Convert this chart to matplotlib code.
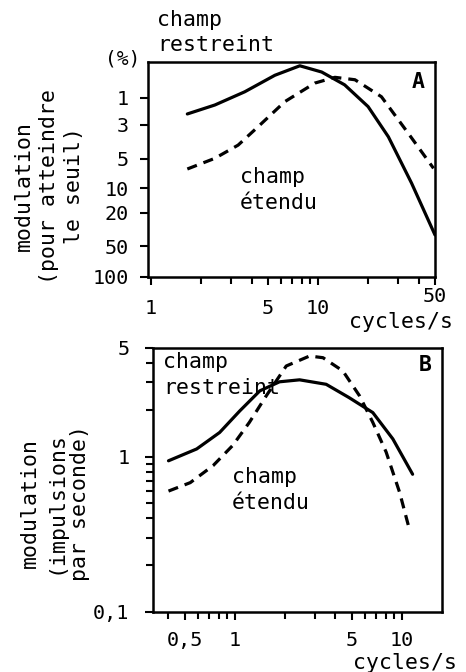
import matplotlib
matplotlib.use('Agg')
import matplotlib.pyplot as plt
from matplotlib.ticker import FixedLocator, NullLocator, LogLocator, NullFormatter
import numpy as np

plt.rcParams['font.family'] = ['DejaVu Sans Mono']

# panel A: seuil de modulation (%) vs frequence temporelle
a_freq_restreint = [1.65, 2.41, 3.64, 5.51, 7.77, 10.5, 14.4, 19.9, 26.3, 36.2, 50.0]
a_mod_restreint = [1.93, 1.35, 0.80, 0.42, 0.29, 0.37, 0.61, 1.44, 3.58, 8.9, 36.8]
a_freq_etendu = [1.65, 2.41, 3.32, 4.37, 6.32, 9.55, 12.6, 16.6, 23.9, 34.6, 49.0]
a_mod_etendu = [6.35, 4.95, 4.06, 3.08, 1.18, 0.57, 0.455, 0.50, 0.97, 3.40, 6.25]
a_yticks = [1, 3, 5, 10, 20, 50, 100]
a_xticks = [1, 5, 10, 50]

# panel B: modulation de la reponse (impulsions par seconde)
b_freq_restreint = [0.40, 0.59, 0.81, 1.07, 1.41, 1.85, 2.44, 3.52, 4.82, 6.70, 8.83, 11.6]
b_mod_restreint = [0.94, 1.12, 1.43, 1.97, 2.65, 3.03, 3.12, 2.92, 2.40, 1.92, 1.30, 0.77]
b_freq_etendu = [0.40, 0.54, 0.74, 0.97, 1.22, 1.54, 2.03, 2.80, 3.37, 4.43, 5.58, 6.70, 8.05, 9.69, 11.1]
b_mod_etendu = [0.60, 0.68, 0.875, 1.18, 1.66, 2.46, 3.83, 4.44, 4.33, 3.56, 2.46, 1.66, 1.07, 0.59, 0.34]
b_xticks = [0.5, 1, 5, 10]
b_xticklabels = ['0,5', '1', '5', '10']
b_yticks = [0.1, 1, 5]
b_yticklabels = ['0,1', '1', '5']

W, H = 466, 672
fig = plt.figure(figsize=(W / 100, H / 100), dpi=100)

FS = 15.5
TFS = 14.5


def px_axes(x0, y0, x1, y1):
    return fig.add_axes([x0 / W, 1 - y1 / H, (x1 - x0) / W, (y1 - y0) / H])


def px_text(x, y, s, **kw):
    kw.setdefault('fontsize', FS)
    fig.text(x / W, 1 - y / H, s, **kw)


# non-uniform threshold axis of panel A
_a_vals = np.log10([0.1, 1, 3, 5, 10, 20, 50, 100])
_a_pos = np.array([38.5, 97.5, 125, 159, 188, 213, 246, 277])


def a_fwd(v):
    v = np.clip(np.asarray(v, dtype=float), 1e-3, None)
    return np.interp(np.log10(v), _a_vals, _a_pos)


def a_inv(p):
    return 10 ** np.interp(p, _a_pos, _a_vals)


def style_axes(ax):
    for sp in ax.spines.values():
        sp.set_linewidth(1.8)
    ax.tick_params(which='both', direction='out', width=1.5, labelsize=TFS)
    ax.tick_params(which='major', length=6)
    ax.tick_params(which='minor', length=5)


lw = 2.3
dash = (0, (3.2, 2.2))

# --- A ---
axA = px_axes(148, 62, 435, 277)
axA.plot(a_freq_restreint, a_mod_restreint, color='black', lw=lw,
         solid_capstyle='round', solid_joinstyle='round')
axA.plot(a_freq_etendu, a_mod_etendu, color='black', lw=lw, linestyle=dash)
axA.set_xscale('log')
axA.set_yscale('function', functions=(a_fwd, a_inv))
axA.set_xlim(0.96, 50)
axA.set_ylim(100, float(a_inv(62)))
axA.xaxis.set_major_locator(FixedLocator(a_xticks))
axA.set_xticklabels([str(t) for t in a_xticks])
axA.xaxis.set_minor_locator(LogLocator(base=10, subs=np.arange(2, 10)))
axA.xaxis.set_minor_formatter(NullFormatter())
axA.yaxis.set_major_locator(FixedLocator(a_yticks))
axA.set_yticklabels([str(t) for t in a_yticks])
axA.yaxis.set_minor_locator(NullLocator())
style_axes(axA)
axA.tick_params(axis='x', which='major', pad=10)
axA.tick_params(axis='y', pad=8)
axA.xaxis.get_major_ticks()[-1].set_pad(1)
axA.text(0.965, 0.955, 'A', transform=axA.transAxes, ha='right', va='top',
         fontsize=FS, fontweight='bold')

px_text(157, 20, 'champ', va='center', ha='left')
px_text(157, 45, 'restreint', va='center', ha='left')
px_text(123, 59, '(%)', fontsize=14, va='center', ha='center')
px_text(240, 177, 'champ', va='center', ha='left')
px_text(240, 203, 'étendu', va='center', ha='left')
px_text(401, 322, 'cycles/s', va='center', ha='center')
px_text(49, 186, 'modulation\n(pour atteindre\nle seuil)', rotation=90,
        va='center', ha='center', multialignment='center', linespacing=1.32)

# --- B ---
axB = px_axes(153, 348, 442, 612)
axB.plot(b_freq_restreint, b_mod_restreint, color='black', lw=lw,
         solid_capstyle='round', solid_joinstyle='round')
axB.plot(b_freq_etendu, b_mod_etendu, color='black', lw=lw, linestyle=dash)
axB.set_xscale('log')
axB.set_yscale('log')
axB.set_xlim(0.323, 17.4)
axB.set_ylim(0.1, 5)
axB.xaxis.set_major_locator(FixedLocator(b_xticks))
axB.set_xticklabels(b_xticklabels)
axB.xaxis.set_minor_locator(FixedLocator([0.4, 0.6, 0.7, 0.8, 0.9, 2, 3, 4, 6, 7, 8, 9]))
axB.xaxis.set_minor_formatter(NullFormatter())
axB.yaxis.set_major_locator(FixedLocator(b_yticks))
axB.set_yticklabels(b_yticklabels)
axB.yaxis.set_minor_locator(FixedLocator([0.2, 0.3, 0.4, 0.5, 0.6, 0.7, 0.8, 0.9, 2, 3, 4]))
axB.yaxis.set_minor_formatter(NullFormatter())
style_axes(axB)
axB.tick_params(axis='x', which='major', pad=8)
axB.tick_params(axis='y', pad=11)
axB.text(0.965, 0.975, 'B', transform=axB.transAxes, ha='right', va='top',
         fontsize=FS, fontweight='bold')

px_text(163, 362, 'champ', va='center', ha='left')
px_text(163, 388, 'restreint', va='center', ha='left')
px_text(232, 477, 'champ', va='center', ha='left')
px_text(232, 503, 'étendu', va='center', ha='left')
px_text(405, 663, 'cycles/s', va='center', ha='center')
px_text(55, 503, 'modulation\n(impulsions\npar seconde)', rotation=90,
        va='center', ha='center', multialignment='center', linespacing=1.32)

fig.savefig('out.png', dpi=100)
